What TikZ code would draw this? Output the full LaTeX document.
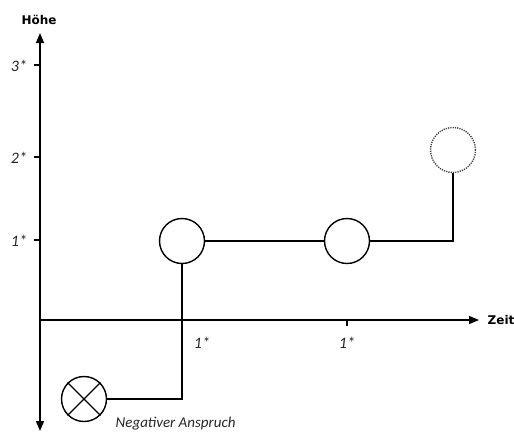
\documentclass[tikz,border=0pt]{standalone}
\usepackage{fontspec}
\usetikzlibrary{arrows.meta}
\newfontfamily\axisfont{DejaVu Sans}
\newfontfamily\labfont{Carlito}
\begin{document}
\begin{tikzpicture}[x=1pt,y=-1pt,line width=1.4pt,
  tip/.style={-{Triangle[length=10pt,width=8pt]}},
  axlabel/.style={font=\axisfont\bfseries\fontsize{12}{14}\selectfont,inner sep=0pt},
  ticklabel/.style={font=\labfont\itshape\fontsize{16}{18}\selectfont,inner sep=0pt,text=black!85},
  neglabel/.style={font=\labfont\itshape\fontsize{15}{17}\selectfont,inner sep=0pt,text=black!85},
  state/.style={draw,circle,minimum size=45pt,inner sep=0pt,line width=1.4pt},
  future/.style={draw=black!75,circle,minimum size=45pt,inner sep=0pt,line width=1.4pt,dash pattern=on 1.2pt off 1.1pt}]
\useasboundingbox (0,0) rectangle (514,432);
\coordinate (O) at (40,320);
\coordinate (ytop) at (40,33);
\coordinate (ybot) at (40,431);
\coordinate (xend) at (479,320);
\draw[tip] (O) -- (ytop);
\draw[tip] (O) -- (ybot);
\draw[tip] (O) -- (xend);
\node[axlabel] (hoehe) at (39,20) {Höhe};
\node[axlabel,anchor=west] (zeit) at (487,320) {Zeit};
% y ticks
\draw (34,65) -- (40,65);
\draw (34,157) -- (40,157);
\draw (34,240) -- (40,240);
\node[ticklabel] (y3) at (19,66) {3*};
\node[ticklabel] (y2) at (19,158) {2*};
\node[ticklabel] (y1) at (19,241) {1*};
% x ticks
\draw (347,320) -- (347,326);
\node[ticklabel] (x1) at (202,343) {1*};
\node[ticklabel] (x2) at (347,343) {1*};
% states
\node[state] (c1) at (182,241) {};
\node[state] (c2) at (347,241) {};
\node[future] (c3) at (453,150) {};
\node[state] (cx) at (84,399) {};
\draw (cx.north west) -- (cx.south east);
\draw (cx.north east) -- (cx.south west);
\draw (c1) -- (c2);
\draw (c2.east) -| (c3.south);
\draw (c1.south) |- (cx.east);
\node[neglabel,anchor=west] (neg) at (115,424) {Negativer Anspruch};
\end{tikzpicture}
\end{document}
